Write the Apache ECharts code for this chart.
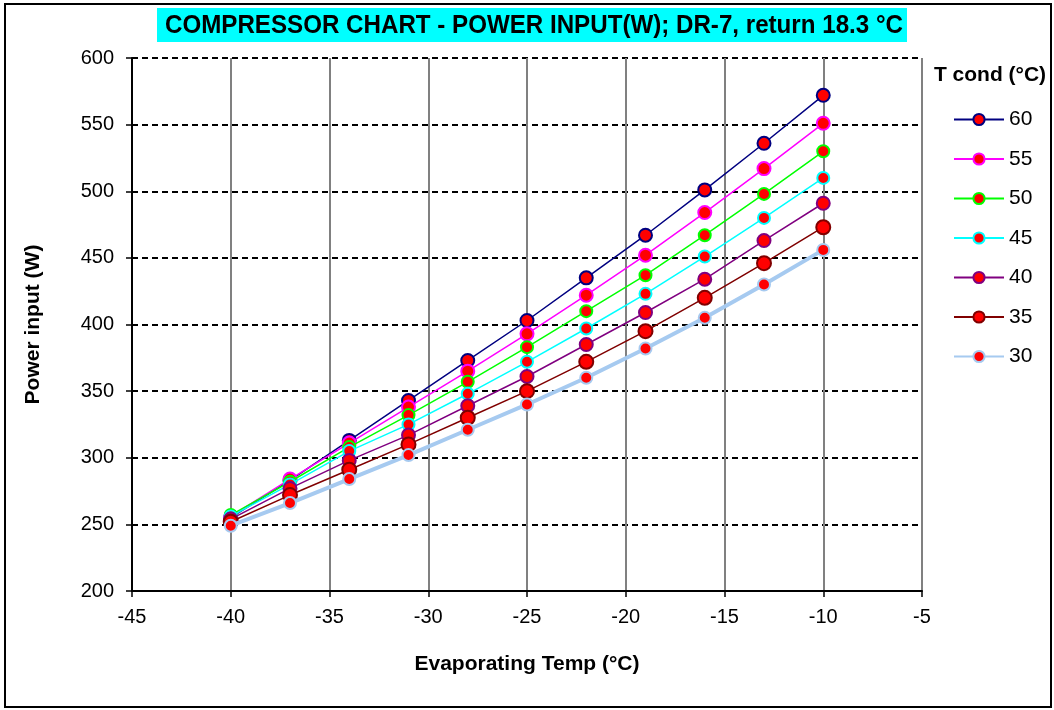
<!DOCTYPE html>
<html>
<head>
<meta charset="utf-8">
<script src="https://cdn.jsdelivr.net/npm/echarts@6/dist/echarts.min.js"></script>
<style>
html,body{margin:0;padding:0;background:#fff;}
#chart{width:1054px;height:710px;}
</style>
</head>
<body>
<div id="chart"></div>
<script>
var evapTemps = [-40, -37, -34, -31, -28, -25, -22, -19, -16, -13, -10];
var seriesNames = ['60', '55', '50', '45', '40', '35', '30'];
var p60 = [255, 283, 313, 343, 373, 403, 435, 467, 501, 536, 572];
var p55 = [256, 284, 311, 338, 365, 393, 422, 452, 484, 517, 551];
var p50 = [257, 282, 308, 332, 357, 383, 410, 437, 467, 498, 530];
var p45 = [256, 280, 305, 325, 348, 372, 397, 423, 451, 480, 510];
var p40 = [254, 277, 298, 317, 339, 361, 385, 409, 434, 463, 491];
var p35 = [252, 272, 291, 310, 330, 350, 372, 395, 420, 446, 473];
var p30 = [249, 266, 284, 302, 321, 340, 360, 382, 405, 430, 456];
var xTicks = [-45, -40, -35, -30, -25, -20, -15, -10, -5];
var yTicks = [200, 250, 300, 350, 400, 450, 500, 550, 600];

var seriesData = [p60, p55, p50, p45, p40, p35, p30];
var lineColors = ['#000080', '#FF00FF', '#00FF00', '#00FFFF', '#800080', '#800000', '#A6CAF0'];
var lineWidths = [1.5, 1.5, 1.5, 1.5, 1.5, 1.5, 4];
var symSizes = [13, 13, 12, 12, 13, 14, 12];

var titleText = 'COMPRESSOR CHART - POWER INPUT(W); DR-7, return 18.3 °C';
var titleFont = 'bold 25px "Liberation Sans", Arial, sans-serif';
var cv = document.createElement('canvas').getContext('2d');
cv.font = titleFont;
var titleScale = 738 / cv.measureText(titleText).width;

var chart = echarts.init(document.getElementById('chart'));
var GL = 132, GT = 58, GW = 790, GH = 533;
var series = seriesNames.map(function (name, i) {
  return {
    name: name,
    type: 'line',
    data: evapTemps.map(function (x, j) { return [x, seriesData[i][j]]; }),
    symbol: 'circle',
    symbolSize: symSizes[i],
    lineStyle: { color: lineColors[i], width: lineWidths[i] },
    itemStyle: { color: '#FF0000', borderColor: lineColors[i], borderWidth: 2 },
    z: 3 + i,
    animation: false
  };
});

chart.setOption({
  animation: false,
  backgroundColor: '#ffffff',
  textStyle: { fontFamily: 'Liberation Sans, Arial, sans-serif' },
  grid: { left: GL, top: GT, width: GW, height: GH, containLabel: false },
  legend: {
    orient: 'vertical',
    left: 953,
    top: 109,
    padding: 0,
    itemWidth: 50,
    itemHeight: 14,
    itemGap: 18.5,
    textStyle: { fontSize: 21, color: '#000', fontFamily: 'Liberation Sans, Arial, sans-serif' },
    data: seriesNames
  },
  xAxis: {
    type: 'value',
    min: -45, max: -5, interval: 5,
    name: 'Evaporating Temp (°C)',
    nameLocation: 'middle',
    nameGap: 63,
    nameTextStyle: { fontSize: 21, fontWeight: 'bold', color: '#000' },
    axisLine: { onZero: false, lineStyle: { color: '#000', width: 2 } },
    axisTick: { show: true, length: 6, lineStyle: { color: '#000', width: 1.5 } },
    axisLabel: { fontSize: 20, color: '#000', margin: 16 },
    splitLine: { show: true, lineStyle: { color: '#808080', width: 2, type: 'solid' } }
  },
  yAxis: {
    type: 'value',
    min: 200, max: 600, interval: 50,
    name: 'Power input (W)',
    nameLocation: 'middle',
    nameGap: 88,
    nameTextStyle: { fontSize: 21, fontWeight: 'bold', color: '#000' },
    axisLine: { onZero: false, lineStyle: { color: '#000', width: 2 } },
    axisTick: { show: true, length: 6, lineStyle: { color: '#000', width: 1.5 } },
    axisLabel: { fontSize: 20, color: '#000', margin: 18 },
    splitLine: { show: true, lineStyle: { color: '#000', width: 2, type: [6, 4] } }
  },
  graphic: [
    { type: 'rect', shape: { x: 5, y: 4, width: 1046, height: 703 }, style: { fill: null, stroke: '#000', lineWidth: 2 }, z: 0, silent: true },
    { type: 'rect', shape: { x: 157, y: 8, width: 750, height: 34 }, style: { fill: '#00FFFF' }, z: 1, silent: true },
    { type: 'text', x: 534, y: 26, scaleX: titleScale, style: { text: titleText, font: titleFont, fill: '#000', align: 'center', verticalAlign: 'middle' }, z: 2, silent: true },
    { type: 'text', x: 990, y: 75, style: { text: 'T cond (°C)', font: 'bold 21px "Liberation Sans", Arial, sans-serif', fill: '#000', align: 'center', verticalAlign: 'middle' }, z: 2, silent: true }
  ],
  series: series
});
</script>
</body>
</html>
